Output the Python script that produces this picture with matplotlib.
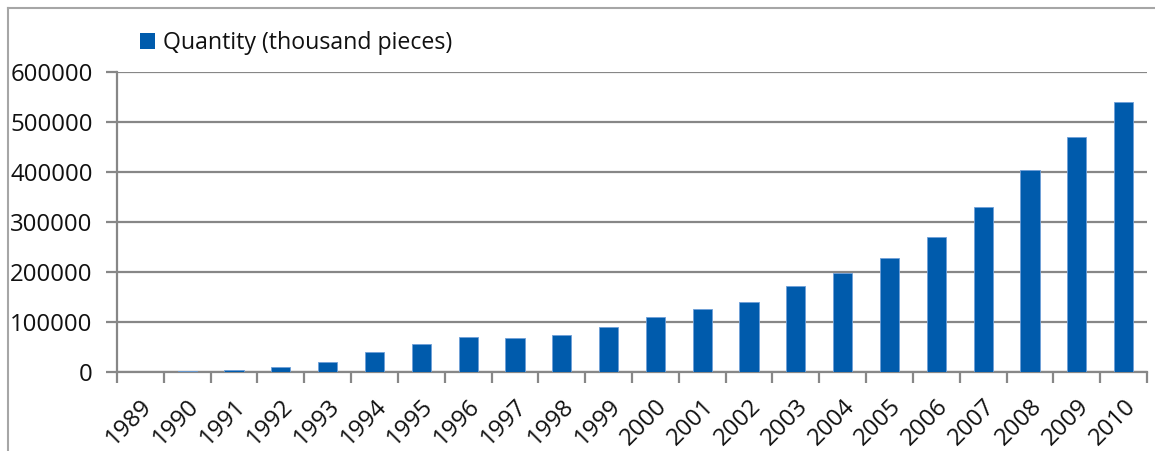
import matplotlib
matplotlib.use("Agg")
import matplotlib.pyplot as plt
from matplotlib.lines import Line2D
from matplotlib.patches import Patch

years = ["1989", "1990", "1991", "1992", "1993", "1994", "1995", "1996",
         "1997", "1998", "1999", "2000", "2001", "2002", "2003", "2004",
         "2005", "2006", "2007", "2008", "2009", "2010"]
quantity = [1000, 3000, 5000, 10000, 21000, 40000, 56000, 71000,
            68500, 73500, 90500, 110500, 126000, 140000, 172000, 198000,
            229000, 270000, 330000, 405000, 470000, 540000]
series_label = "Quantity (thousand pieces)"
y_ticks = [0, 100000, 200000, 300000, 400000, 500000, 600000]

bar_color = "#005BAC"
grid_color = "#878787"
font = ["Open Sans", "DejaVu Sans"]
tick_size = 17.3
legend_size = 16.7

plt.rcParams["font.family"] = font

fig = plt.figure(figsize=(11.55, 4.51), dpi=100)
ax = fig.add_axes([117 / 1155, 1 - 372 / 451, 1030 / 1155, 300 / 451])

x = list(range(len(years)))
ax.bar(x, quantity, width=0.41, color=bar_color, edgecolor="#6f9fd8",
       linewidth=0.6, zorder=3, label=series_label)

ax.set_xlim(-0.5, len(years) - 0.5)
ax.set_ylim(0, 600000)
ax.set_yticks(y_ticks)
ax.set_yticklabels([str(v) for v in y_ticks], fontsize=tick_size,
                   color="#111111")
ax.yaxis.grid(True, color=grid_color, linewidth=1.6, zorder=0)
ax.set_axisbelow(True)

ax.set_xticks(x)
ax.set_xticklabels(years, fontsize=tick_size, rotation=45, ha="right",
                   rotation_mode="anchor", color="#111111")
ax.set_xticks([i - 0.5 for i in range(len(years) + 1)], minor=True)
ax.tick_params(axis="x", which="major", length=0, pad=16)
ax.tick_params(axis="x", which="minor", length=8, width=1.6, color=grid_color)
ax.tick_params(axis="y", length=8, width=1.6, color=grid_color, pad=9.5)

for side in ("top", "right"):
    ax.spines[side].set_visible(False)
ax.spines["left"].set_color(grid_color)
ax.spines["left"].set_linewidth(1.6)
ax.spines["bottom"].set_color(grid_color)
ax.spines["bottom"].set_linewidth(1.6)

handle = Patch(facecolor=bar_color, edgecolor="none")
ax.legend([handle], [series_label], loc="center left",
          bbox_to_anchor=(140 / 1155, 1 - 43 / 451),
          bbox_transform=fig.transFigure, frameon=False,
          prop={"size": legend_size}, labelcolor="#111111",
          handlelength=0.64, handleheight=0.64, handletextpad=0.35,
          borderaxespad=0, borderpad=0)

# chart-area frame (left and top edges)
fig.add_artist(Line2D([7.5 / 1155, 7.5 / 1155], [0, 1 - 8 / 451],
                      transform=fig.transFigure, color="#a6a6a6", linewidth=1.5))
fig.add_artist(Line2D([7.5 / 1155, 1], [1 - 8 / 451, 1 - 8 / 451],
                      transform=fig.transFigure, color="#a6a6a6", linewidth=1.5))

fig.savefig("out.png", dpi=100)
